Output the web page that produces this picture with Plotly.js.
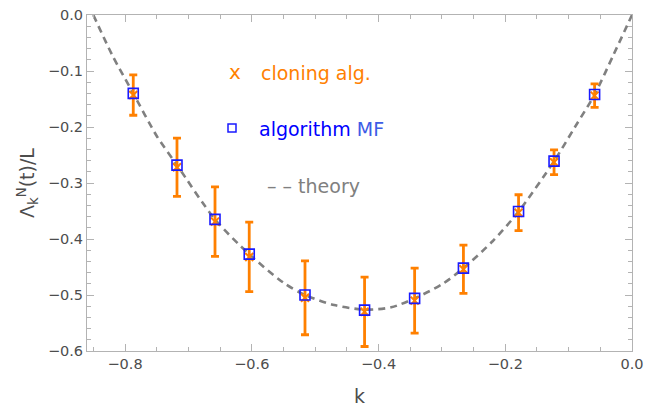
<!DOCTYPE html>
<html>
<head>
<meta charset="utf-8">
<script src="https://cdn.plot.ly/plotly-3.0.1.min.js"></script>
<style>html,body{margin:0;padding:0;background:#fff;}#chart{width:646px;height:412px;}</style>
</head>
<body>
<div id="chart"></div>
<script>
// k values of the simulated points
const kPoints = [-0.787, -0.718, -0.658, -0.604, -0.516, -0.422, -0.343, -0.266, -0.179, -0.123, -0.059];
// cloning algorithm values and error bars
const cloningVals = [-0.143, -0.272, -0.369, -0.432, -0.505, -0.530, -0.510, -0.454, -0.353, -0.263, -0.144];
const cloningErr  = [0.036, 0.052, 0.062, 0.062, 0.066, 0.062, 0.058, 0.043, 0.032, 0.022, 0.021];
// algorithm MF values
const mfVals = [-0.140, -0.268, -0.365, -0.427, -0.500, -0.527, -0.506, -0.452, -0.351, -0.261, -0.142];
// theory curve
const theoryK = [-0.850, -0.820, -0.787, -0.750, -0.718, -0.658, -0.604, -0.550, -0.516, -0.470, -0.422, -0.380, -0.343, -0.300, -0.266, -0.220, -0.179, -0.123, -0.090, -0.059, -0.030, 0.000];
const theoryVals = [0.000, -0.072, -0.140, -0.216, -0.268, -0.365, -0.427, -0.478, -0.500, -0.518, -0.526, -0.522, -0.506, -0.481, -0.452, -0.404, -0.351, -0.261, -0.200, -0.142, -0.073, 0.000];
// axis ticks
const xTicks = [-0.8, -0.6, -0.4, -0.2, 0.0];
const xTickText = ["\u22120.8", "\u22120.6", "\u22120.4", "\u22120.2", "0.0"];
const yTicks = [0.0, -0.1, -0.2, -0.3, -0.4, -0.5, -0.6];
const yTickText = ["0.0", "\u22120.1", "\u22120.2", "\u22120.3", "\u22120.4", "\u22120.5", "\u22120.6"];

const ORANGE = '#ff8000';
const BLUE = '#1a1aff';
const GRAY = '#808080';
const FONT = 'DejaVu Sans, Arial, sans-serif';

const traces = [
  {
    x: theoryK, y: theoryVals, type: 'scatter', mode: 'lines',
    line: {color: GRAY, width: 2.6, dash: '7px,5px', shape: 'spline', smoothing: 0.8},
    hoverinfo: 'skip', showlegend: false
  },
  {
    x: kPoints, y: cloningVals, type: 'scatter', mode: 'markers',
    marker: {symbol: 'x-thin-open', size: 8, color: ORANGE, line: {color: ORANGE, width: 2}},
    error_y: {type: 'data', array: cloningErr, visible: true, color: ORANGE, thickness: 2.8, width: 4},
    showlegend: false
  },
  {
    x: kPoints, y: mfVals, type: 'scatter', mode: 'markers',
    marker: {symbol: 'square-open', size: 10, color: BLUE, line: {color: BLUE, width: 1.6}},
    showlegend: false
  }
];

// plot area in pixels: x 87..632, y 15..351
const L = 87, R = 632, T = 15, B = 351;
const px = v => (v - L) / (R - L);
const py = v => (B - v) / (B - T);

const layout = {
  width: 646, height: 412,
  margin: {l: L, r: 646 - R, t: T, b: 412 - B, pad: 0},
  paper_bgcolor: '#fff', plot_bgcolor: '#fff',
  font: {family: FONT, color: '#4d4d4d', size: 14.5},
  showlegend: false,
  xaxis: {
    range: [-0.86, 0.0], showgrid: false, zeroline: false,
    showline: true, linecolor: '#b3b3b3', linewidth: 1, mirror: 'ticks',
    ticks: 'inside', ticklen: 7, tickcolor: '#b3b3b3', tickwidth: 1,
    tickvals: xTicks, ticktext: xTickText,
    minor: {dtick: 0.05, tick0: 0, ticks: 'inside', ticklen: 4, tickcolor: '#b3b3b3', tickwidth: 1},
    tickfont: {family: FONT, size: 14.5, color: '#4d4d4d'},
    title: {text: 'k', font: {family: FONT, size: 19, color: '#4d4d4d'}, standoff: 18}
  },
  yaxis: {
    range: [-0.6, 0.0], showgrid: false, zeroline: false,
    showline: true, linecolor: '#b3b3b3', linewidth: 1, mirror: 'ticks',
    ticks: 'inside', ticklen: 7, tickcolor: '#b3b3b3', tickwidth: 1,
    tickvals: yTicks, ticktext: yTickText,
    minor: {dtick: 0.02, tick0: 0, ticks: 'inside', ticklen: 4, tickcolor: '#b3b3b3', tickwidth: 1},
    tickfont: {family: FONT, size: 14.5, color: '#4d4d4d'},
    title: {text: '\u039b<sub>k</sub><sup>N</sup>(t)/L', font: {family: FONT, size: 19, color: '#4d4d4d'}, standoff: 8}
  },
  annotations: [
    {xref: 'paper', yref: 'paper', x: px(235), y: py(72), xanchor: 'center', yanchor: 'middle',
     text: 'x', showarrow: false, font: {family: FONT, size: 20, color: ORANGE}},
    {xref: 'paper', yref: 'paper', x: px(259), y: py(73), xanchor: 'left', yanchor: 'middle',
     text: 'cloning alg.', showarrow: false, font: {family: FONT, size: 19, color: ORANGE}},
    {xref: 'paper', yref: 'paper', x: px(257), y: py(129), xanchor: 'left', yanchor: 'middle',
     text: 'algorithm <span style="color:#3d5ce6">MF</span>', showarrow: false, font: {family: FONT, size: 19, color: '#0000ff'}},
    {xref: 'paper', yref: 'paper', x: px(265), y: py(186), xanchor: 'left', yanchor: 'middle',
     text: '\u2013 \u2013 theory', showarrow: false, font: {family: FONT, size: 19, color: GRAY}}
  ],
  shapes: [
    {type: 'rect', xref: 'paper', yref: 'paper', x0: px(228), x1: px(236), y0: py(132), y1: py(124),
     line: {color: BLUE, width: 1.5}, fillcolor: 'rgba(0,0,0,0)'}
  ]
};

Plotly.newPlot('chart', traces, layout, {staticPlot: true, displayModeBar: false});
</script>
</body>
</html>
